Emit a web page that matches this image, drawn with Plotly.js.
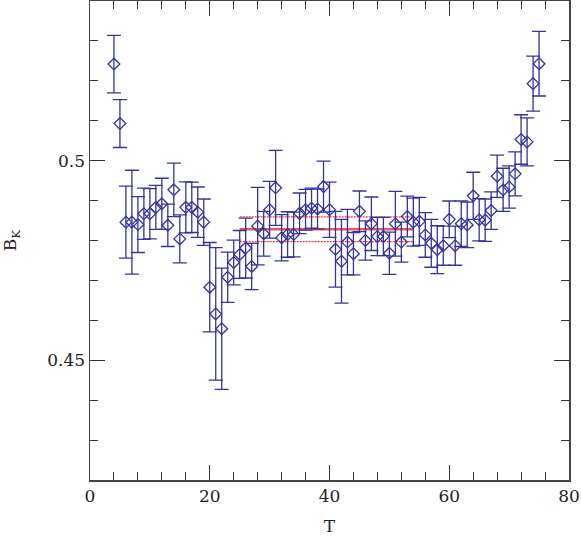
<!DOCTYPE html>
<html>
<head>
<meta charset="utf-8">
<script src="https://cdn.plot.ly/plotly-3.0.1.min.js"></script>
<style>
  html, body { margin: 0; padding: 0; background: #ffffff; }
  #chart { width: 581px; height: 541px; }
</style>
</head>
<body>
<div id="chart"></div>
<script>
// time slices T and the B_K values with their errors
const tValues = [
  4, 5, 6, 7, 8, 9, 10, 11, 12, 13, 14, 15, 16, 17, 18, 19,
  20, 21, 22, 23, 24, 25, 26, 27, 28, 29, 30, 31, 32, 33, 34, 35,
  36, 37, 38, 39, 40, 41, 42, 43, 44, 45, 46, 47, 48, 49, 50, 51,
  52, 53, 54, 55, 56, 57, 58, 59, 60, 61, 62, 63, 64, 65, 66, 67,
  68, 69, 70, 71, 72, 73, 74, 75
];

const bkValues = [
  0.5242, 0.5093, 0.4846, 0.4846, 0.4840, 0.4867, 0.4867, 0.4883,
  0.4892, 0.4838, 0.4927, 0.4804, 0.4883, 0.4883, 0.4871, 0.4846,
  0.4683, 0.4616, 0.4579, 0.4708, 0.4745, 0.4765, 0.4781, 0.4735,
  0.4836, 0.4817, 0.4877, 0.4932, 0.4807, 0.4815, 0.4815, 0.4868,
  0.4877, 0.4881, 0.4879, 0.4935, 0.4877, 0.4778, 0.4748, 0.4796,
  0.4767, 0.4873, 0.4800, 0.4842, 0.4810, 0.4810, 0.4768, 0.4842,
  0.4796, 0.4860, 0.4846, 0.4848, 0.4814, 0.4793, 0.4777, 0.4787,
  0.4853, 0.4787, 0.4842, 0.4839, 0.4912, 0.4852, 0.4851, 0.4875,
  0.4961, 0.4927, 0.4934, 0.4967, 0.5053, 0.5047, 0.5193, 0.5243
];

const bkErrors = [
  0.0072, 0.0060, 0.0090, 0.0130, 0.0070, 0.0064, 0.0063, 0.0055,
  0.0064, 0.0053, 0.0067, 0.0060, 0.0064, 0.0063, 0.0063, 0.0058,
  0.0112, 0.0166, 0.0152, 0.0063, 0.0056, 0.0060, 0.0075, 0.0058,
  0.0097, 0.0056, 0.0071, 0.0094, 0.0058, 0.0057, 0.0056, 0.0051,
  0.0051, 0.0050, 0.0050, 0.0064, 0.0069, 0.0095, 0.0105, 0.0082,
  0.0053, 0.0051, 0.0049, 0.0067, 0.0048, 0.0048, 0.0053, 0.0081,
  0.0050, 0.0051, 0.0060, 0.0060, 0.0056, 0.0060, 0.0060, 0.0049,
  0.0046, 0.0049, 0.0057, 0.0057, 0.0059, 0.0053, 0.0053, 0.0047,
  0.0053, 0.0054, 0.0053, 0.0055, 0.0062, 0.0060, 0.0069, 0.0081
];

// plateau fit: range in T, central value and its error
const fitRange = [25, 54];
const fitValue = 0.4828;
const fitError = 0.0031;

const xTickVals = [0, 20, 40, 60, 80];
const yTickVals = [0.45, 0.5];
const yTickText = ["0.45", "0.5"];

const blue = "#34349a";
const red = "#e8585a";

const fitLevels = [fitValue + fitError, fitValue - fitError, fitValue];

const fitTraces = fitLevels.map((level, i) => ({
  type: "scatter",
  mode: "lines",
  x: fitRange,
  y: [level, level],
  showlegend: false,
  hoverinfo: "skip",
  line: i < 2
    ? { color: "#ff3030", width: 1.3, dash: "2px,1px" }
    : { color: red, width: 2.4, dash: "solid" }
}));

const dataTrace = {
  type: "scatter",
  mode: "markers",
  x: tValues,
  y: bkValues,
  showlegend: false,
  error_y: {
    type: "data",
    array: bkErrors,
    visible: true,
    color: blue,
    thickness: 1.3,
    width: 7
  },
  marker: {
    symbol: "diamond-open",
    size: 9,
    color: blue,
    line: { color: blue, width: 1.3 }
  }
};

const axisFont = { family: "DejaVu Serif, Liberation Serif, serif", size: 17, color: "#222222" };

const layout = {
  width: 581,
  height: 541,
  margin: { l: 90, r: 12, t: 1, b: 61 },
  paper_bgcolor: "#ffffff",
  plot_bgcolor: "#ffffff",
  font: axisFont,
  showlegend: false,
  xaxis: {
    title: { text: "T", font: axisFont, standoff: 15 },
    range: [0, 80],
    tickmode: "array",
    tickvals: xTickVals,
    ticks: "inside",
    ticklen: 15,
    tickwidth: 1.2,
    tickcolor: "#333333",
    minor: { dtick: 4, tick0: 0, ticks: "inside", ticklen: 8, tickwidth: 1, tickcolor: "#333333" },
    showline: true,
    mirror: "ticks",
    linecolor: "#444444",
    linewidth: 1.5,
    showgrid: false,
    zeroline: false,
    tickfont: axisFont
  },
  yaxis: {
    title: { text: "B<sub>K</sub>", font: axisFont, standoff: 26 },
    range: [0.42, 0.54],
    tickmode: "array",
    tickvals: yTickVals,
    ticktext: yTickText,
    ticks: "inside",
    ticklen: 15,
    tickwidth: 1.2,
    tickcolor: "#333333",
    minor: { dtick: 0.01, tick0: 0.42, ticks: "inside", ticklen: 8, tickwidth: 1, tickcolor: "#333333" },
    showline: true,
    mirror: "ticks",
    linecolor: "#444444",
    linewidth: 1.5,
    showgrid: false,
    zeroline: false,
    tickfont: axisFont
  }
};

Plotly.newPlot("chart", [...fitTraces, dataTrace], layout, {
  displayModeBar: false,
  staticPlot: true
});
</script>
</body>
</html>
